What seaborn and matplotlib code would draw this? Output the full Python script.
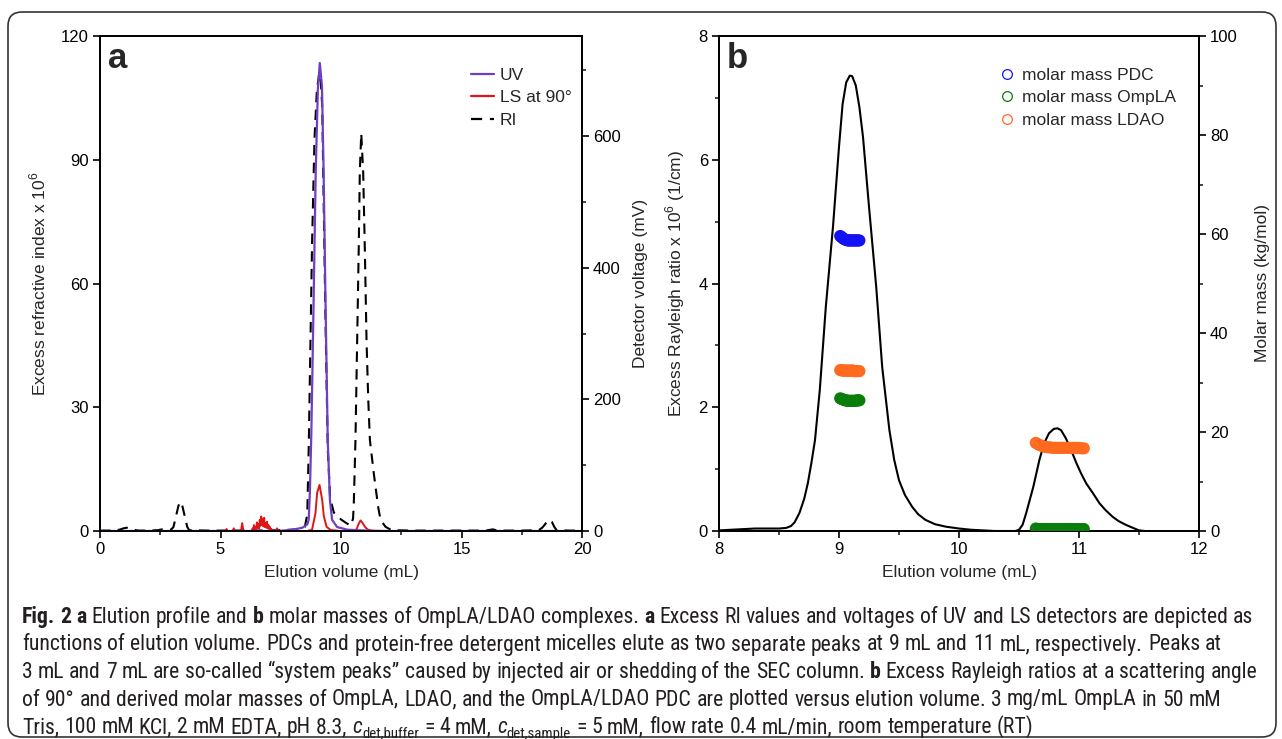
import matplotlib
matplotlib.use("Agg")
import matplotlib.pyplot as plt
from matplotlib.lines import Line2D
from matplotlib.patches import FancyBboxPatch
from matplotlib.transforms import IdentityTransform
from matplotlib.ticker import MultipleLocator, NullLocator
from matplotlib import font_manager
import seaborn as sns

# ---------------- panel a : elution profile ----------------
# RI (excess refractive index x 1e6, left axis)
ri_vol = [0.0, 0.5, 0.8, 0.95, 1.1, 1.25, 1.4, 1.6, 2.0, 2.4, 2.65, 2.8, 2.95, 3.05, 3.15, 3.25,
          3.33, 3.42, 3.52, 3.62, 3.7, 4.5, 5.5, 6.5, 7.5, 8.2, 8.5, 8.6, 8.66, 8.73, 8.8, 8.9,
          9.0, 9.1, 9.16, 9.22, 9.28, 9.36, 9.45, 9.55, 9.7, 9.85, 10.0, 10.2, 10.4, 10.5, 10.53,
          10.6, 10.67, 10.74, 10.78, 10.84, 10.92, 10.99, 11.06, 11.13, 11.2, 11.36, 11.54, 11.64,
          11.85, 12.1, 13.0, 14.5, 16.0, 16.3, 16.5, 17.5, 18.2, 18.35, 18.45, 18.6, 18.75, 18.85,
          18.95, 19.5, 20.0]
ri_val = [0.1, 0.1, 0.3, 0.6, 0.8, 0.6, 0.3, 0.1, 0.1, 0.2, 0.5, 0.4, 0.3, 1.0, 3.5, 6.0,
          7.1, 6.0, 3.5, 1.0, 0.2, 0.1, 0.1, 0.1, 0.2, 0.4, 1.0, 4.0, 20.0, 45.0, 70.0, 95.0,
          107.0, 111.0, 109.0, 103.0, 80.0, 50.0, 20.0, 8.0, 4.5, 3.5, 2.8, 2.0, 1.3, 3.0, 6.5,
          22.0, 46.0, 70.0, 87.0, 96.4, 87.0, 68.0, 46.0, 32.0, 22.0, 14.0, 5.9, 2.7,
          1.0, 0.2, 0.1, 0.1, 0.1, 0.4, 0.1, 0.1, 0.2, 0.8, 1.5, 2.7, 2.2, 1.0,
          0.2, 0.1, 0.1]

# UV detector voltage (mV, right axis)
uv_vol = [0.0, 5.0, 7.4, 8.0, 8.4, 8.6, 8.66, 8.71, 8.77, 8.86, 8.95, 9.04, 9.12, 9.21, 9.28,
          9.36, 9.45, 9.54, 9.63, 9.84, 10.26, 10.8, 11.5, 20.0]
uv_mv = [0, 0, 0, 2, 5, 10, 17, 60, 150, 341, 544, 671, 711, 676, 544,
         341, 138, 47, 17, 6, 2, 1, 0, 0]

# LS at 90 degrees (mV, right axis)
ls_vol = [0.0, 5.2, 5.25, 5.3, 5.5, 5.55, 5.6, 5.85, 5.9, 5.95,
          6.3, 6.33, 6.36, 6.39, 6.42, 6.45, 6.48, 6.51, 6.54, 6.57, 6.6, 6.63, 6.66, 6.69, 6.72,
          6.75, 6.78, 6.81, 6.84, 6.87, 6.9, 6.93, 6.96, 6.99, 7.02, 7.05, 7.08, 7.11, 7.15,
          7.3, 7.35, 7.4, 8.6, 8.8, 8.94, 9.01, 9.11, 9.22, 9.29, 9.4, 9.57, 10.0, 10.55, 10.65,
          10.72, 10.81, 10.9, 11.0, 11.1, 11.25, 12.0, 20.0]
ls_mv = [0, 0, 3, 0, 0, 4, 0, 0, 12, 0,
         0, 4, 1, 9, 3, 6, 2, 13, 5, 10, 4, 17, 8, 22, 9,
         18, 7, 20, 6, 12, 5, 14, 4, 9, 3, 6, 2, 3, 0,
         0, 4, 0, 0, 2, 27, 58, 70, 47, 22, 6.5, 1.5, 0, 0, 3,
         10, 16, 12, 6, 2.5, 0.5, 0, 0]

# ---------------- panel b : Rayleigh ratio and molar masses ----------------
rr_vol = [8.0, 8.1, 8.2, 8.3, 8.4, 8.5, 8.56, 8.6, 8.63, 8.67, 8.71, 8.74, 8.77, 8.8, 8.84,
          8.89, 8.95, 9.0, 9.03, 9.06, 9.09, 9.11, 9.14, 9.17, 9.2, 9.25, 9.31, 9.36, 9.42,
          9.46, 9.5, 9.55, 9.61, 9.66, 9.72, 9.8, 9.89, 10.0, 10.1, 10.2, 10.3, 10.4, 10.47,
          10.5, 10.53, 10.56, 10.62, 10.67, 10.71, 10.75, 10.79, 10.82, 10.85, 10.89, 10.94,
          10.98, 11.02, 11.06, 11.12, 11.17, 11.22, 11.28, 11.33, 11.39, 11.45, 11.5, 11.55]
rr_val = [0.01, 0.02, 0.03, 0.04, 0.04, 0.04, 0.05, 0.08, 0.14, 0.29, 0.52, 0.77, 1.1, 1.47, 2.28,
          3.62, 4.92, 6.21, 6.9, 7.25, 7.36, 7.35, 7.2, 6.85, 6.37, 5.24, 3.95, 2.65, 1.63,
          1.15, 0.82, 0.58, 0.39, 0.27, 0.18, 0.11, 0.07, 0.04, 0.02, 0.01, 0.0, 0.0, 0.0,
          0.02, 0.1, 0.29, 0.72, 1.15, 1.42, 1.58, 1.65, 1.66, 1.63, 1.5, 1.28,
          1.09, 0.92, 0.77, 0.6, 0.45, 0.34, 0.23, 0.16, 0.1, 0.05, 0.01, 0.0]

pdc_vol = [9.01, 9.02, 9.03, 9.04, 9.05, 9.06, 9.07, 9.08, 9.09, 9.1, 9.11, 9.12, 9.13, 9.14,
           9.15, 9.16, 9.17]
pdc_mass = [59.6, 59.4, 59.2, 59.0, 58.9, 58.8, 58.7, 58.7, 58.7, 58.7, 58.7, 58.7, 58.7, 58.7,
            58.7, 58.7, 58.7]

ompla_vol = [9.01, 9.02, 9.03, 9.04, 9.05, 9.06, 9.07, 9.08, 9.09, 9.1, 9.11, 9.12, 9.13, 9.14,
             9.15, 9.16, 9.17,
             10.64, 10.66, 10.68, 10.7, 10.72, 10.74, 10.76, 10.78, 10.8, 10.82, 10.84, 10.86,
             10.88, 10.9, 10.92, 10.94, 10.96, 10.98, 11.0, 11.02, 11.04]
ompla_mass = [26.8, 26.7, 26.6, 26.5, 26.4, 26.4, 26.3, 26.3, 26.3, 26.3, 26.3, 26.3, 26.3, 26.3,
              26.4, 26.4, 26.4,
              0.5, 0.4, 0.4, 0.4, 0.4, 0.4, 0.4, 0.4, 0.4, 0.4, 0.4, 0.4,
              0.4, 0.4, 0.4, 0.4, 0.4, 0.4, 0.4, 0.4, 0.4]

ldao_vol = [9.01, 9.02, 9.03, 9.04, 9.05, 9.06, 9.07, 9.08, 9.09, 9.1, 9.11, 9.12, 9.13, 9.14,
            9.15, 9.16, 9.17,
            10.64, 10.66, 10.68, 10.7, 10.72, 10.74, 10.76, 10.78, 10.8, 10.82, 10.84, 10.86,
            10.88, 10.9, 10.92, 10.94, 10.96, 10.98, 11.0, 11.02, 11.04]
ldao_mass = [32.5, 32.5, 32.4, 32.4, 32.4, 32.4, 32.4, 32.4, 32.4, 32.4, 32.4, 32.4, 32.3, 32.3,
             32.3, 32.3, 32.3,
             17.8, 17.5, 17.3, 17.1, 17.0, 16.9, 16.9, 16.8, 16.8, 16.8, 16.8, 16.8,
             16.8, 16.8, 16.8, 16.8, 16.8, 16.8, 16.8, 16.7, 16.7]

# caption as runs: n = normal, b = bold, i = italic, s = subscript
caption_runs = [
    [("Fig. 2 a", "b"), (" Elution profile and ", "n"), ("b", "b"),
     (" molar masses of OmpLA/LDAO complexes. ", "n"), ("a", "b"),
     (" Excess RI values and voltages of UV and LS detectors are depicted as", "n")],
    [("functions of elution volume. PDCs and protein-free detergent micelles elute as two "
      "separate peaks at 9 mL and 11 mL, respectively. Peaks at", "n")],
    [("3 mL and 7 mL are so-called \u201csystem peaks\u201d caused by injected air or shedding "
      "of the SEC column. ", "n"), ("b", "b"),
     (" Excess Rayleigh ratios at a scattering angle", "n")],
    [("of 90\u00b0 and derived molar masses of OmpLA, LDAO, and the OmpLA/LDAO PDC are "
      "plotted versus elution volume. 3 mg/mL OmpLA in 50 mM", "n")],
    [("Tris, 100 mM KCl, 2 mM EDTA, pH 8.3, ", "n"), ("c", "i"), ("det,buffer", "s"),
     (" = 4 mM, ", "n"), ("c", "i"), ("det,sample", "s"),
     (" = 5 mM, flow rate 0.4 mL/min, room temperature (RT)", "n")],
]

# ---------------- style ----------------
sns.set_style("ticks")
plt.rcParams["font.family"] = ["Liberation Sans", "DejaVu Sans"]
plt.rcParams["axes.linewidth"] = 1.3
plt.rcParams["axes.edgecolor"] = "black"

fonts = font_manager.fontManager.ttflist
names = {f.name for f in fonts}
cap_family, cap_stretch = None, "normal"
for n in ["Liberation Sans Narrow", "Roboto Condensed", "Open Sans Condensed",
          "Noto Sans Condensed", "DejaVu Sans Condensed", "Arial Narrow"]:
    if n in names:
        cap_family = n
        break
if cap_family is None:
    for f in fonts:
        if f.name in ("Noto Sans", "Open Sans", "DejaVu Sans", "Roboto") and \
                f.stretch in ("condensed", "semi-condensed"):
            cap_family, cap_stretch = f.name, f.stretch
            break
if cap_family is None:
    cap_family = "Liberation Sans" if "Liberation Sans" in names else "DejaVu Sans"

W, H = 1282, 739
fig = plt.figure(figsize=(W / 100, H / 100), dpi=100)


def frac_box(left, top, right, bottom):
    return [left / W, (H - bottom) / H, (right - left) / W, (bottom - top) / H]


def style_ticks(ax, labelsize=12):
    ax.tick_params(which="major", direction="out", length=5, width=1.2, labelsize=labelsize,
                   pad=3, colors="black")
    ax.tick_params(which="minor", direction="out", length=3, width=1.2)


LABEL = 12.5
uv_col, ls_col = "#6e3fc2", "#e01515"
pdc_col, omp_col, ldao_col = "#1212f2", "#0a7d0a", "#ff6a1e"

# ---------- panel a ----------
ax_a = fig.add_axes(frac_box(100, 36, 582, 531))
ax_a2 = ax_a.twinx()

sns.lineplot(x=ri_vol, y=ri_val, ax=ax_a, color="black", lw=1.5, linestyle=(0, (5, 3.5)),
             estimator=None)
sns.lineplot(x=ls_vol, y=ls_mv, ax=ax_a2, color=ls_col, lw=1.4, estimator=None)
sns.lineplot(x=uv_vol, y=uv_mv, ax=ax_a2, color=uv_col, lw=1.6, estimator=None)

ax_a.set_xlim(0, 20)
ax_a.set_ylim(0, 120)
ax_a2.set_ylim(0, 752)
ax_a.xaxis.set_major_locator(MultipleLocator(5))
ax_a.xaxis.set_minor_locator(MultipleLocator(2.5))
ax_a.yaxis.set_major_locator(MultipleLocator(30))
ax_a.yaxis.set_minor_locator(NullLocator())
ax_a2.yaxis.set_major_locator(MultipleLocator(200))
ax_a2.yaxis.set_minor_locator(MultipleLocator(100))
for a in (ax_a, ax_a2):
    style_ticks(a)
ax_a.set_xlabel("Elution volume (mL)", fontsize=LABEL, labelpad=6)
ax_a.set_ylabel(r"Excess refractive index x 10$^{\mathregular{6}}$", fontsize=LABEL, labelpad=9)
ax_a2.set_ylabel("Detector voltage (mV)", fontsize=LABEL, labelpad=9)
ax_a.text(0.016, 0.935, "a", transform=ax_a.transAxes, fontsize=25, fontweight="bold",
          ha="left", va="baseline")

hand_a = [Line2D([], [], color=uv_col, lw=1.6),
          Line2D([], [], color=ls_col, lw=1.6),
          Line2D([], [], color="black", lw=1.6, linestyle=(0, (5, 3.5)))]
ax_a2.legend(hand_a, ["UV", "LS at 90\u00b0", "RI"], loc="upper left",
             bbox_to_anchor=(0.77, 0.936), frameon=False, fontsize=LABEL, borderpad=0,
             borderaxespad=0, handlelength=1.3, handletextpad=0.35, labelspacing=0.42)

# ---------- panel b ----------
ax_b = fig.add_axes(frac_box(719, 36, 1199, 531))
ax_b2 = ax_b.twinx()

sns.lineplot(x=rr_vol, y=rr_val, ax=ax_b, color="black", lw=1.5, estimator=None)
for xs, ys, c in [(ompla_vol, ompla_mass, omp_col), (ldao_vol, ldao_mass, ldao_col),
                  (pdc_vol, pdc_mass, pdc_col)]:
    sns.scatterplot(x=xs, y=ys, ax=ax_b2, s=45, marker="o", color=c, facecolor="none",
                    edgecolor=c, linewidth=2.0, zorder=3)

ax_b.set_xlim(8, 12)
ax_b.set_ylim(0, 8)
ax_b2.set_ylim(0, 100)
ax_b.xaxis.set_major_locator(MultipleLocator(1))
ax_b.xaxis.set_minor_locator(MultipleLocator(0.5))
ax_b.yaxis.set_major_locator(MultipleLocator(2))
ax_b.yaxis.set_minor_locator(MultipleLocator(1))
ax_b2.yaxis.set_major_locator(MultipleLocator(20))
ax_b2.yaxis.set_minor_locator(MultipleLocator(10))
for a in (ax_b, ax_b2):
    style_ticks(a)
ax_b.set_xlabel("Elution volume (mL)", fontsize=LABEL, labelpad=6)
ax_b.set_ylabel(r"Excess Rayleigh ratio x 10$^{\mathregular{6}}$ (1/cm)", fontsize=LABEL,
                labelpad=8)
ax_b2.set_ylabel("Molar mass (kg/mol)", fontsize=LABEL, labelpad=12)
ax_b.text(0.016, 0.935, "b", transform=ax_b.transAxes, fontsize=25, fontweight="bold",
          ha="left", va="baseline")

hand_b = [Line2D([], [], ls="none", marker="o", ms=7, mfc="none", mec=c, mew=0.9)
          for c in (pdc_col, omp_col, ldao_col)]
ax_b2.legend(hand_b, ["molar mass PDC", "molar mass OmpLA", "molar mass LDAO"],
             loc="upper left", bbox_to_anchor=(0.585, 0.936), frameon=False, fontsize=LABEL,
             borderpad=0, borderaxespad=0, handlelength=0.8, handletextpad=0.5,
             labelspacing=0.42)

# ---------- caption box ----------
box = FancyBboxPatch((8, 2), 1268, 725, boxstyle="round,pad=0,rounding_size=14",
                     transform=IdentityTransform(), facecolor="none", edgecolor="#333333",
                     lw=1.2)
fig.add_artist(box)

renderer = fig.canvas.get_renderer()


def run_kw(st, size):
    kw = dict(family=cap_family, fontstretch=cap_stretch, color="#231f20",
              fontsize=size, va="baseline", ha="left", transform=IdentityTransform())
    if st == "b":
        kw["fontweight"] = "bold"
    if st == "i":
        kw["fontstyle"] = "italic"
    if st == "s":
        kw["fontsize"] = size * 0.68
    return kw


def ink_width(s, st, size):
    t = fig.text(0, 0, s, **run_kw(st, size))
    w = t.get_window_extent(renderer).width
    t.remove()
    return w


def draw_line(x, y, runs, size, keep=True):
    made = []
    for text, st in runs:
        gap = ink_width("n n", st, size) - 2 * ink_width("n", st, size)
        dy = -0.22 * size * 100 / 72 if st == "s" else 0
        for k, word in enumerate(text.split(" ")):
            if k > 0:
                x += gap
            if word:
                t = fig.text(x, y + dy, word, **run_kw(st, size))
                x += t.get_window_extent(renderer).width
                made.append(t)
    if not keep:
        for t in made:
            t.remove()
    return x


base = 14
x_end = draw_line(22, 0, caption_runs[0], base, keep=False)
cap_size = base * 1240 / (x_end - 22)
for i, runs in enumerate(caption_runs):
    draw_line(22, H - (623 + 27.5 * i), runs, cap_size)

fig.savefig("out.png", dpi=100)
